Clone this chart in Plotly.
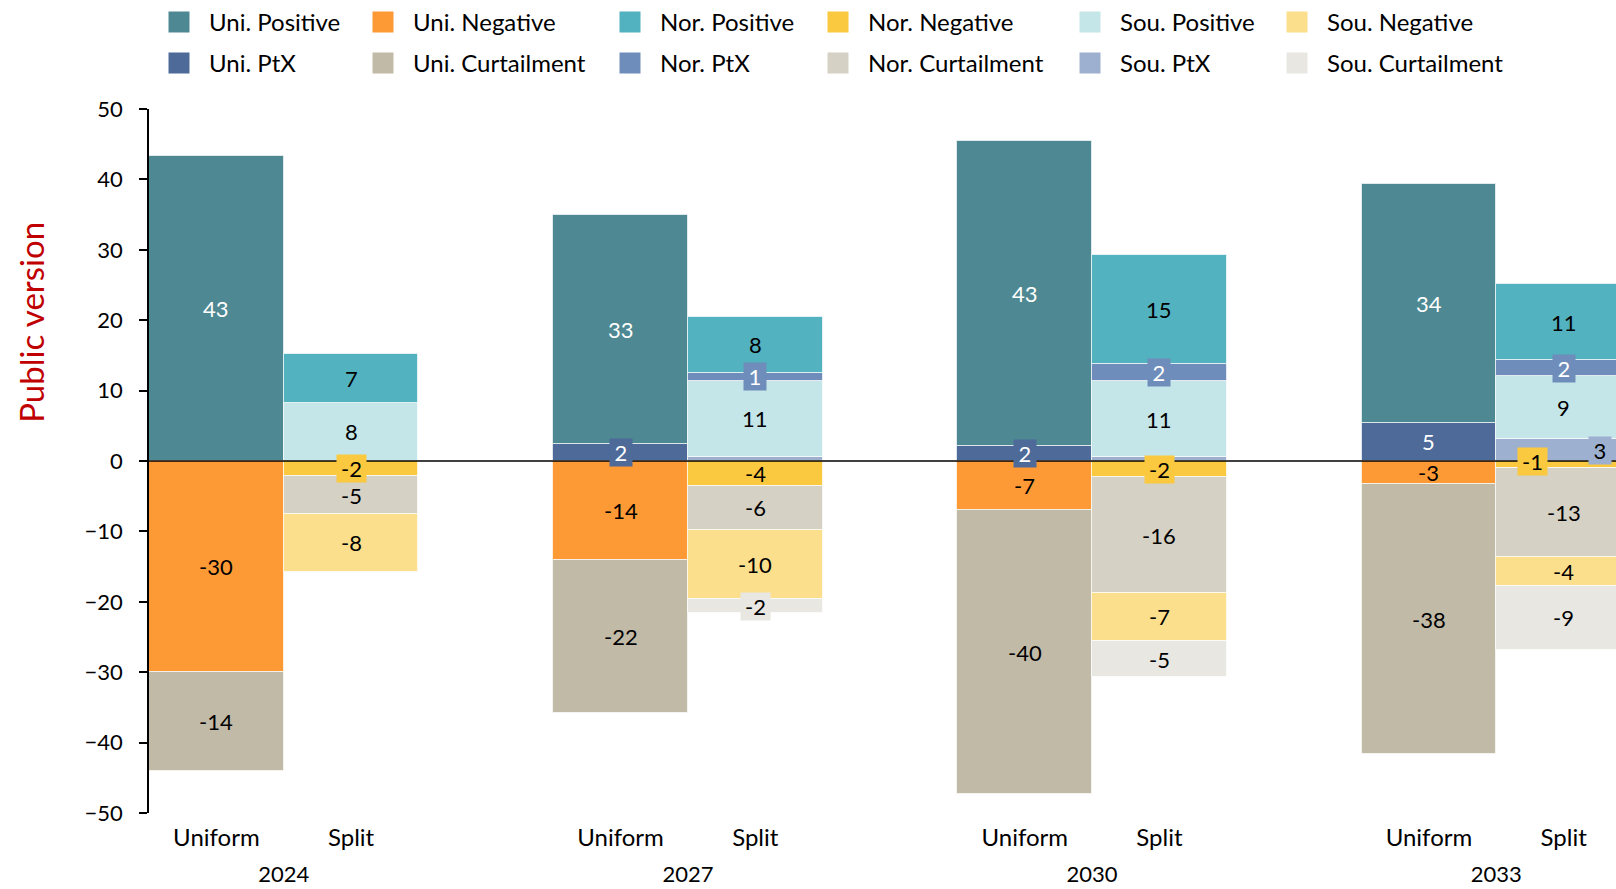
import plotly.graph_objects as go

# ---------------- data ----------------
years = ["2024", "2027", "2030", "2033"]
bar_names = ["Uniform", "Split"]

uni_positive = [43.3, 32.6, 43.3, 33.9]
uni_ptx = [0.0, 2.4, 2.2, 5.4]
uni_negative = [-29.9, -14.0, -7.0, -3.3]
uni_curtailment = [-14.2, -21.8, -40.3, -38.3]

nor_positive = [6.9, 8.0, 15.4, 10.8]
nor_ptx = [0.0, 1.1, 2.4, 2.2]
nor_negative = [-2.2, -3.55, -2.3, -1.0]
nor_curtailment = [-5.3, -6.2, -16.45, -12.7]

sou_positive = [8.3, 10.8, 10.9, 9.0]
sou_ptx = [0.0, 0.6, 0.5, 3.1]
sou_negative = [-8.2, -9.9, -6.8, -4.1]
sou_curtailment = [-0.2, -1.9, -5.2, -9.0]

y_ticks = [-50, -40, -30, -20, -10, 0, 10, 20, 30, 40, 50]

# ---------------- styles ----------------
colors = {
    "Uni. Positive": "#4E8993",
    "Uni. Negative": "#FE9A35",
    "Nor. Positive": "#53B2BF",
    "Nor. Negative": "#FAC93F",
    "Sou. Positive": "#C4E6E8",
    "Sou. Negative": "#FBDF8C",
    "Uni. PtX": "#4D6A99",
    "Uni. Curtailment": "#C1BAA7",
    "Nor. PtX": "#6F8DBA",
    "Nor. Curtailment": "#D5D1C4",
    "Sou. PtX": "#9EB0CF",
    "Sou. Curtailment": "#E8E7E2",
}
white_text = {"Uni. Positive", "Uni. PtX", "Nor. PtX"}

# stacking order (positives upward, negatives downward, in trace order)
uniform_series = [
    ("Uni. PtX", uni_ptx),
    ("Uni. Positive", uni_positive),
    ("Uni. Negative", uni_negative),
    ("Uni. Curtailment", uni_curtailment),
]
split_series = [
    ("Sou. PtX", sou_ptx),
    ("Sou. Positive", sou_positive),
    ("Nor. PtX", nor_ptx),
    ("Nor. Positive", nor_positive),
    ("Nor. Negative", nor_negative),
    ("Nor. Curtailment", nor_curtailment),
    ("Sou. Negative", sou_negative),
    ("Sou. Curtailment", sou_curtailment),
]

legend_grid = [
    ["Uni. Positive", "Uni. Negative", "Nor. Positive", "Nor. Negative", "Sou. Positive", "Sou. Negative"],
    ["Uni. PtX", "Uni. Curtailment", "Nor. PtX", "Nor. Curtailment", "Sou. PtX", "Sou. Curtailment"],
]

# layout geometry (pixels)
W, H = 1616, 889
ML, MR, MT, MB = 149, 0, 109, 76
PW, PH = W - ML - MR, H - MT - MB
slot = 3  # Uniform, Split, gap
unit_px = 134.73
x_range = [0, PW / unit_px]

x_uniform = [slot * i + 0.5 for i in range(len(years))]
x_split = [slot * i + 1.5 for i in range(len(years))]
x_year = [slot * i + 1.0 for i in range(len(years))]

label_shift = {("Sou. PtX", "2033"): (36, 0), ("Nor. Negative", "2033"): (-31, 3)}

fig = go.Figure()
annotations = []


def add_stack(series, xpos):
    for name, vals in series:
        fig.add_trace(go.Bar(
            x=xpos, y=vals, name=name, width=1.0,
            marker=dict(color=colors[name], line=dict(color="rgba(255,255,255,0.65)", width=1)),
            legendgroup=name, showlegend=False,
            hovertemplate=name + ": %{y:.1f}<extra></extra>",
        ))
    for i, yr in enumerate(years):
        pos_base, neg_base = 0.0, 0.0
        for name, vals in series:
            v = vals[i]
            if v >= 0:
                mid = pos_base + v / 2
                pos_base += v
            else:
                mid = neg_base + v / 2
                neg_base += v
            if abs(v) < 0.95:
                continue
            small = abs(v) < 3.2
            dx, dy = label_shift.get((name, yr), (0, 0))
            txt = str(int(round(v)))
            ann = dict(
                x=xpos[i], y=mid, xref="x", yref="y", text=txt,
                showarrow=False, xshift=dx, yshift=dy,
                font=dict(size=22, color="white" if name in white_text else "black"),
            )
            if small:
                ann.update(bgcolor=colors[name], borderpad=0,
                           width=9 + 13 * sum(ch.isdigit() for ch in txt) + (7 if v < 0 else 0),
                           height=27)
            annotations.append(ann)


add_stack(uniform_series, x_uniform)
add_stack(split_series, x_split)

# legend entries (square swatches), one legend per cell of the grid
swatch_centers = [179, 383, 630, 838, 1090, 1297]
row_centers = [22.5, 63.3]
legend_layouts = {}
k = 0
for r, row in enumerate(legend_grid):
    for c, name in enumerate(row):
        k += 1
        lname = "legend" if k == 1 else f"legend{k}"
        fig.add_trace(go.Scatter(
            x=[None], y=[None], mode="markers", name=name, xaxis="x2",
            marker=dict(symbol="square", size=16, color=colors[name], line=dict(color=colors[name], width=5)),
            legend=lname, legendgroup=name, showlegend=True, hoverinfo="skip",
        ))
        legend_layouts[lname] = dict(
            x=(swatch_centers[c] - 30 - ML) / PW,
            y=(H - MB - row_centers[r]) / PH,
            xanchor="left", yanchor="middle",
            bgcolor="rgba(0,0,0,0)", borderwidth=0,
            font=dict(size=24, color="black", family="Lato"),
            itemwidth=50, orientation="v",
        )

annotations.append(dict(
    text="Public version", xref="paper", yref="paper",
    x=(30.8 - ML) / PW, y=(H - MB - 322) / PH, textangle=-90,
    showarrow=False, xanchor="center", yanchor="middle",
    font=dict(size=33, color="#C00000"),
))

fig.update_layout(
    width=W, height=H,
    margin=dict(l=ML, r=MR, t=MT, b=MB, autoexpand=False),
    paper_bgcolor="white", plot_bgcolor="white",
    font=dict(family="Lato, sans-serif", size=22, color="black"),
    barmode="relative", bargap=0,
    xaxis=dict(
        range=x_range, tickmode="array",
        tickvals=x_uniform + x_split,
        ticktext=[bar_names[0]] * len(years) + [bar_names[1]] * len(years),
        showgrid=False, zeroline=False, showline=False, ticks="",
        tickfont=dict(size=24), ticklabelstandoff=8, fixedrange=True,
    ),
    xaxis2=dict(
        overlaying="x", anchor="y", side="bottom", range=x_range,
        tickmode="array", tickvals=x_year, ticktext=years,
        showgrid=False, zeroline=False, showline=False, ticks="",
        tickfont=dict(size=22), ticklabelstandoff=46, fixedrange=True,
    ),
    yaxis=dict(
        range=[-50, 50], tickmode="array", tickvals=y_ticks,
        showgrid=False, zeroline=False, showline=True, linecolor="black", linewidth=1.5,
        ticks="outside", ticklen=8, tickwidth=1.5, tickcolor="black",
        tickfont=dict(size=22), ticklabelstandoff=12, layer="above traces", fixedrange=True,
    ),
    shapes=[dict(type="line", xref="paper", yref="y", x0=0, x1=1, y0=0, y1=0,
                 line=dict(color="black", width=1.5), layer="above")],
    annotations=annotations,
    showlegend=True,
    **legend_layouts,
)

fig.write_html(
    "out.html",
    config={"displayModeBar": False},
    post_script="document.body.style.margin='0';document.body.style.overflow='hidden';",
)
